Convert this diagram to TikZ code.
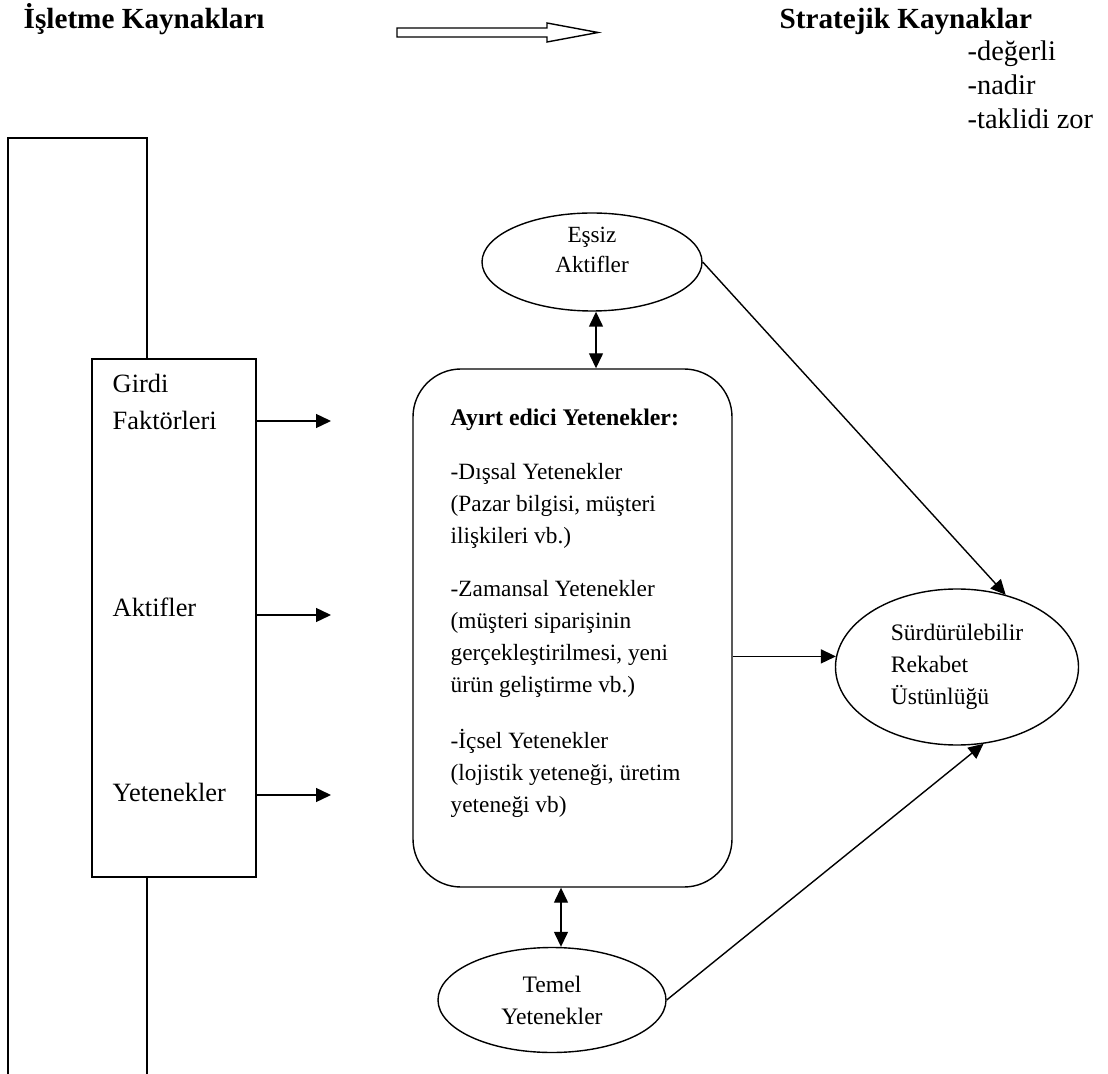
\documentclass[tikz,border=0pt]{standalone}
\usepackage{fontspec}
\setmainfont{Liberation Serif}
\usetikzlibrary{arrows.meta,shapes.geometric,calc}

\begin{document}
\begin{tikzpicture}[x=0.5pt,y=-0.5pt,
  line width=0.7pt,
  tip/.style={-{Triangle[length=7.5pt,width=7pt]}},
  dtip/.style={{Triangle[length=7.5pt,width=7pt]}-{Triangle[length=7.5pt,width=7pt]}},
  title/.style={font=\fontsize{14.6}{17}\selectfont\bfseries, inner sep=0pt, anchor=base west},
  listtxt/.style={font=\fontsize{14.2}{17}\selectfont, inner sep=0pt, anchor=base west},
  sidetxt/.style={font=\fontsize{13.2}{18.5}\selectfont, inner sep=0pt, anchor=base west},
  bodytxt/.style={font=\fontsize{11.65}{16}\selectfont, inner sep=0pt, align=left},
  oval/.style={draw, ellipse, inner sep=0pt, font=\fontsize{11.8}{16}\selectfont, align=center},
]
\useasboundingbox (0,0) rectangle (1108,1074);

% headings
\node[title] (src) at (23,29) {İşletme Kaynakları};
\node[title] (strat) at (779,29) {Stratejik Kaynaklar};
\node[listtxt] (q1) at (967,61) {-değerli};
\node[listtxt] (q2) at (967,95) {-nadir};
\node[listtxt] (q3) at (967,129) {-taklidi zor};

% hollow block arrow between the headings
\coordinate (ba1) at (397,32.5);
\coordinate (ba2) at (598,32.5);
\draw (ba1) ++(0,-4.5) -- ++(150,0) -- ++(0,-5) -- (ba2) -- ++(-51,9.5)
      -- ++(0,-5) -- ++(-150,0) -- cycle;

% resource column with its outer frame
\node[draw, minimum width=82pt, minimum height=259pt, inner sep=0pt] (inbox) at (174,618) {};
\coordinate (frTL) at (8,138);
\coordinate (frTR) at (147,138);
\coordinate (frBL) at (8,1074);
\draw (frBL) -- (frTL) -- (frTR) -- (frTR |- inbox.north);
\draw (frTR |- inbox.south) -- (frTR |- frBL);

\node[sidetxt] (girdi) at (112,393) {Girdi};
\node[sidetxt] (fakt) at (112,430) {Faktörleri};
\node[sidetxt] (aktif) at (112,617) {Aktifler};
\node[sidetxt] (yeten) at (112,801) {Yetenekler};

\coordinate (in1) at (331,421);
\coordinate (in2) at (331,615);
\coordinate (in3) at (331,795);
\draw[tip] (inbox.east |- in1) -- (in1);
\draw[tip] (inbox.east |- in2) -- (in2);
\draw[tip] (inbox.east |- in3) -- (in3);

% distinctive capabilities
\node[draw, rounded corners=24pt, minimum width=159.5pt, minimum height=259pt, inner sep=0pt] (core) at (572.5,628) {};
\node[bodytxt, anchor=north west] (coretxt) at (450,408) {%
  {\fontsize{11.9}{16}\selectfont\bfseries Ayırt edici Yetenekler:}\\[11pt]
  -Dışsal Yetenekler\\
  (Pazar bilgisi, müşteri\\
  ilişkileri vb.)\\[10.5pt]
  -Zamansal Yetenekler\\
  (müşteri siparişinin\\
  gerçekleştirilmesi, yeni\\
  ürün geliştirme vb.)\\[12pt]
  -İçsel Yetenekler\\
  (lojistik yeteneği, üretim\\
  yeteneği vb)};

% ovals
\node[oval, minimum width=110pt, minimum height=49pt] (essiz) at (592,262) {};
\node[oval, draw=none, minimum size=0pt, font=\fontsize{11.6}{16}\selectfont] (essizlbl) at (592,250) {Eşsiz\\[-1pt]Aktifler};
\node[oval, minimum width=114pt, minimum height=52.5pt] (temel) at (552,1000) {Temel\\Yetenekler};
\node[oval, minimum width=121.5pt, minimum height=78pt, align=left] (sra) at (957,667) {Sürdürülebilir\\Rekabet\\Üstünlüğü};

% connectors
\draw[dtip] ([xshift=2pt]essiz.south) -- ([xshift=2pt]essiz.south |- core.north);
\coordinate (tn) at ([xshift=4.5pt]temel.north);
\draw[dtip] (tn |- core.south) -- (tn);
\draw[tip] (essiz.east) -- (sra.56);
\draw[tip] (temel.east) -- (sra.-71);
\draw[tip] (core.east |- sra.175) -- (sra.175);
\end{tikzpicture}
\end{document}
